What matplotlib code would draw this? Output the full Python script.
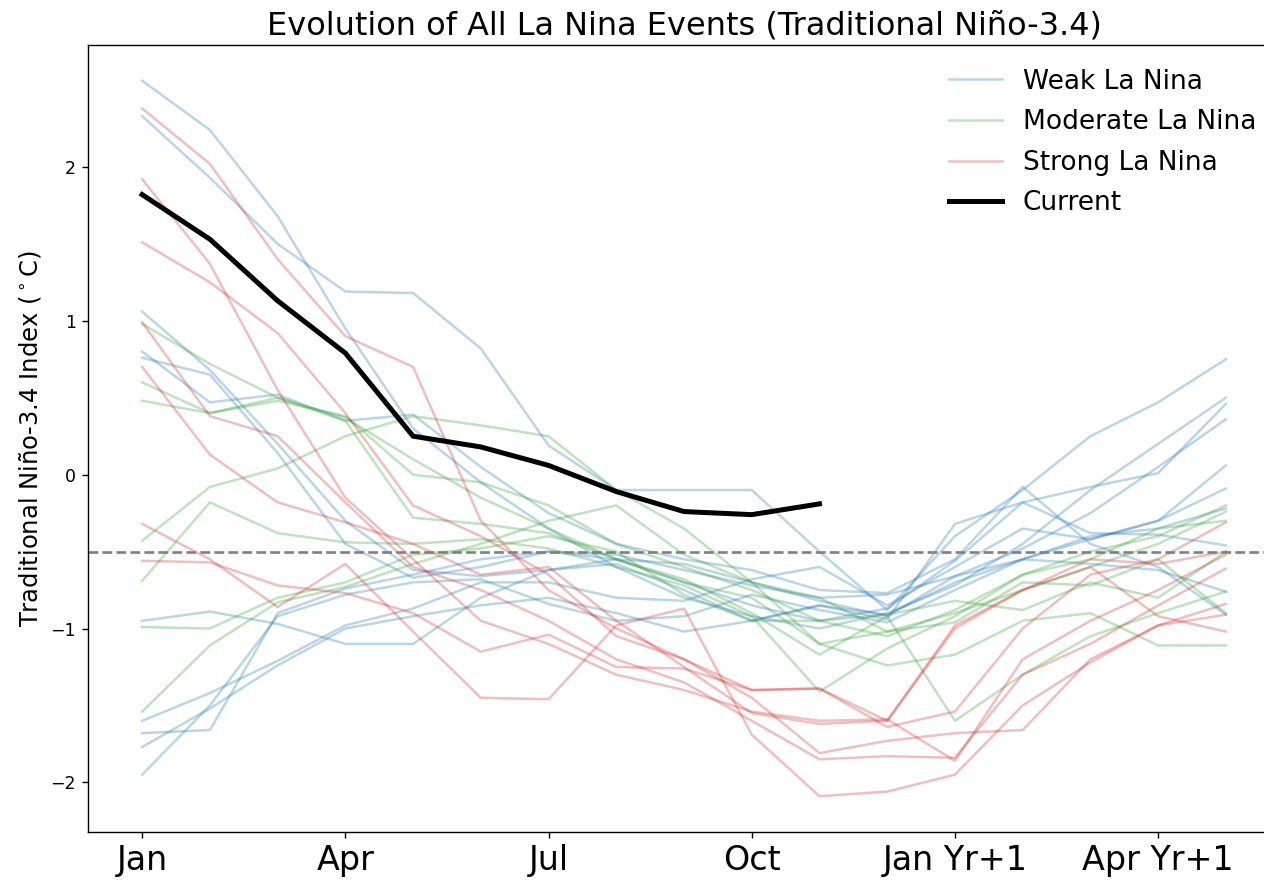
import matplotlib
matplotlib.use("Agg")
import matplotlib.pyplot as plt
import numpy as np

# Month positions: Jan of the event year through May of the following year
months = np.arange(17)
tick_positions = [0, 3, 6, 9, 12, 15]
tick_labels = ["Jan", "Apr", "Jul", "Oct", "Jan Yr+1", "Apr Yr+1"]

# Weak La Nina events (Traditional Niño-3.4 index, °C)
weak_events = [
    [2.56, 2.24, 1.68, 0.95, 0.30, -0.05, -0.35, -0.60, -0.80, -0.92, -1.00, -0.90, -0.72, -0.45, -0.10, 0.20, 0.50],
    [2.33, 1.93, 1.50, 1.19, 1.18, 0.82, 0.19, -0.10, -0.10, -0.10, -0.50, -0.88, -0.40, -0.10, 0.25, 0.47, 0.75],
    [1.06, 0.68, 0.20, -0.30, -0.62, -0.66, -0.62, -0.55, -0.58, -0.70, -0.82, -0.92, -0.66, -0.48, -0.25, 0.05, 0.36],
    [0.80, 0.47, 0.52, 0.35, 0.39, 0.05, -0.25, -0.45, -0.55, -0.62, -0.75, -0.77, -0.55, -0.08, -0.45, -0.60, -0.91],
    [0.76, 0.65, 0.14, -0.45, -0.67, -0.60, -0.50, -0.55, -0.70, -0.85, -0.95, -0.87, -0.56, -0.18, -0.08, 0.01, 0.46],
    [-0.95, -0.89, -0.97, -1.10, -1.10, -0.80, -0.62, -0.58, -0.75, -0.95, -0.85, -0.94, -0.32, -0.18, -0.38, -0.39, -0.46],
    [-1.60, -1.42, -1.21, -0.98, -0.87, -0.70, -0.70, -0.80, -0.82, -0.68, -0.60, -0.85, -0.60, -0.35, -0.42, -0.30, 0.06],
    [-1.68, -1.66, -0.90, -0.74, -0.65, -0.55, -0.50, -0.52, -0.62, -0.72, -0.80, -0.78, -0.66, -0.55, -0.58, -0.62, -0.76],
    [-1.77, -1.52, -1.24, -1.00, -0.92, -0.85, -0.80, -0.90, -1.02, -0.95, -0.85, -0.91, -0.70, -0.55, -0.42, -0.30, -0.09],
    [-1.95, -1.50, -0.92, -0.78, -0.70, -0.68, -0.84, -0.95, -0.92, -0.78, -0.88, -0.96, -0.75, -0.55, -0.40, -0.35, -0.22],
]

# Moderate La Nina events
moderate_events = [
    [0.98, 0.72, 0.50, 0.37, 0.10, -0.15, -0.35, -0.55, -0.70, -0.80, -1.10, -1.02, -0.90, -0.75, -0.60, -0.45, -0.24],
    [0.60, 0.40, 0.48, 0.38, 0.00, -0.05, -0.20, -0.45, -0.60, -0.75, -0.95, -1.05, -0.88, -0.65, -0.50, -0.40, -0.20],
    [0.48, 0.40, 0.50, 0.35, -0.28, -0.32, -0.38, -0.55, -0.68, -0.90, -1.17, -0.92, -1.60, -1.30, -1.05, -0.90, -0.76],
    [-0.43, -0.08, 0.04, 0.25, 0.38, 0.32, 0.25, -0.10, -0.35, -0.70, -1.10, -1.24, -1.17, -0.95, -0.90, -1.11, -1.11],
    [-0.69, -0.18, -0.38, -0.44, -0.45, -0.42, -0.48, -0.60, -0.72, -0.92, -1.41, -1.13, -0.92, -0.65, -0.55, -0.35, -0.30],
    [-0.99, -1.00, -0.80, -0.70, -0.52, -0.48, -0.40, -0.50, -0.78, -0.95, -0.95, -0.91, -0.82, -0.88, -0.70, -0.80, -0.50],
    [-1.54, -1.11, -0.83, -0.73, -0.58, -0.45, -0.30, -0.20, -0.52, -0.70, -0.80, -1.02, -0.96, -0.70, -0.72, -0.55, -0.90],
]

# Strong La Nina events
strong_events = [
    [2.38, 2.02, 1.40, 0.90, 0.70, -0.30, -0.75, -1.00, -1.20, -1.40, -1.39, -1.64, -1.54, -1.00, -0.65, -0.55, -0.31],
    [1.92, 1.37, 0.55, -0.15, -0.55, -0.95, -1.10, -1.30, -1.40, -1.54, -1.60, -1.59, -1.86, -1.20, -0.95, -0.75, -0.52],
    [1.51, 1.25, 0.92, 0.40, -0.20, -0.40, -0.65, -1.05, -1.20, -1.45, -1.81, -1.73, -1.68, -1.66, -1.20, -0.98, -0.84],
    [0.99, 0.38, 0.25, -0.18, -0.60, -0.75, -0.95, -1.20, -1.35, -1.60, -1.85, -1.83, -1.84, -1.30, -1.10, -0.85, -0.61],
    [0.70, 0.13, -0.18, -0.31, -0.45, -0.65, -0.60, -0.95, -1.25, -1.55, -1.62, -1.60, -0.98, -0.75, -0.60, -0.92, -1.02],
    [-0.32, -0.55, -0.86, -0.58, -1.02, -1.45, -1.46, -0.98, -0.87, -1.69, -2.09, -2.06, -1.95, -1.50, -1.22, -0.98, -0.91],
    [-0.56, -0.57, -0.72, -0.77, -0.90, -1.15, -1.04, -1.25, -1.26, -1.40, -1.39, -1.60, -1.00, -0.75, -0.55, -0.58, -0.50],
]

# Current year so far (Jan through Nov)
current = [1.82, 1.53, 1.13, 0.79, 0.25, 0.18, 0.06, -0.11, -0.24, -0.26, -0.19]

threshold = -0.5

fig = plt.figure(figsize=(12.64, 8.82), dpi=100)
ax = fig.add_axes([0.0696, 0.0567, 0.9431, 0.8923])

groups = [
    (weak_events, "tab:blue", "Weak La Nina"),
    (moderate_events, "tab:green", "Moderate La Nina"),
    (strong_events, "tab:red", "Strong La Nina"),
]
for events, color, label in groups:
    for i, series in enumerate(events):
        ax.plot(months, series, color=color, alpha=0.3, lw=1.8,
                label=label if i == 0 else None)

ax.plot(np.arange(len(current)), current, color="black", lw=3.6, label="Current")
ax.axhline(threshold, color="gray", ls="--", lw=1.9)

for spine in ax.spines.values():
    spine.set_linewidth(1.0)

ax.set_xticks(tick_positions)
ax.set_xticklabels(tick_labels, fontsize=24)
ax.set_yticks([-2, -1, 0, 1, 2])
ax.tick_params(axis="both", length=4.4, width=1.0, pad=4.4)
ax.tick_params(axis="y", labelsize=12.5)
ax.set_ylabel("Traditional Niño-3.4 Index ($^\\circ$C)", fontsize=17.5, labelpad=5)
ax.set_title("Evolution of All La Nina Events (Traditional Niño-3.4)", fontsize=23, pad=7.5)
ax.legend(loc="upper right", frameon=False, fontsize=19, labelspacing=0.55,
          borderaxespad=0.5)

fig.savefig("out.png", dpi=100)
